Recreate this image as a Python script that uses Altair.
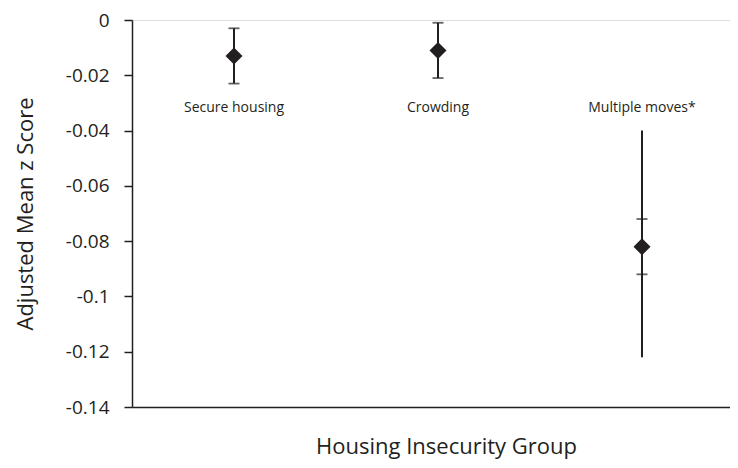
import altair as alt
import pandas as pd

groups = ["Secure housing", "Crowding", "Multiple moves*"]
means = [-0.013, -0.011, -0.082]
ci_low = [-0.023, -0.021, -0.092]
ci_high = [-0.003, -0.001, -0.072]
wide_groups = ["Multiple moves*"]
wide_low = [-0.122]
wide_high = [-0.040]
label_y = [-0.0333, -0.0333, -0.0333]
y_ticks = [0, -0.02, -0.04, -0.06, -0.08, -0.1, -0.12, -0.14]

FONT = "Open Sans"
INK = "#231f20"

df = pd.DataFrame({"group": groups, "mean": means, "lo": ci_low, "hi": ci_high, "ly": label_y})
wide = pd.DataFrame({"group": wide_groups, "lo": wide_low, "hi": wide_high})

xscale = alt.Scale(paddingInner=0, paddingOuter=0, range=[0, 612])
x = alt.X(
    "group:N",
    sort=groups,
    scale=xscale,
    axis=alt.Axis(
        title="Housing Insecurity Group",
        labels=False,
        ticks=False,
        domainColor=INK,
        domainWidth=1.5,
        titleFont=FONT,
        titleFontSize=22,
        titleFontWeight="normal",
        titleColor=INK,
        titlePadding=29,
        titleX=314,
        titleAlign="center",
    ),
)
yscale = alt.Scale(domain=[-0.14, 0], nice=False, zero=False)
yaxis = alt.Axis(
    title="Adjusted Mean z Score",
    values=y_ticks,
    labelExpr="datum.value == 0 ? '0' : '-' + format(abs(datum.value), '')",
    grid=False,
    domainColor=INK,
    domainWidth=1.5,
    tickColor=INK,
    tickWidth=1.5,
    tickSize=8,
    labelPadding=15,
    labelFont=FONT,
    labelFontSize=19,
    labelColor=INK,
    titleFont=FONT,
    titleFontSize=22,
    titleFontWeight="normal",
    titleColor=INK,
    titlePadding=28,
)
y = alt.Y("lo:Q", scale=yscale, axis=yaxis)

base = alt.Chart(df)

ci_rule = base.mark_rule(color=INK, strokeWidth=2).encode(x=x, y=y, y2="hi:Q")
cap_lo = base.mark_tick(color=INK, size=11, thickness=1.8).encode(x=x, y=alt.Y("lo:Q", scale=yscale))
cap_hi = base.mark_tick(color=INK, size=11, thickness=1.8).encode(x=x, y=alt.Y("hi:Q", scale=yscale))
wide_rule = alt.Chart(wide).mark_rule(color=INK, strokeWidth=2).encode(
    x=alt.X("group:N", sort=groups, scale=xscale), y=alt.Y("lo:Q", scale=yscale), y2="hi:Q"
)
pts = base.mark_point(shape="diamond", filled=True, size=290, color=INK, opacity=1).encode(
    x=x, y=alt.Y("mean:Q", scale=yscale)
)
labels = base.mark_text(font=FONT, fontSize=14, color=INK, baseline="alphabetic", align="center").encode(
    x=x, y=alt.Y("ly:Q", scale=yscale), text="group:N"
)

chart = (
    alt.layer(ci_rule, wide_rule, cap_lo, cap_hi, pts, labels)
    .properties(
        width=598,
        height=387,
        autosize=alt.AutoSizeParams(type="none"),
        padding={"left": 124, "top": 12, "right": 0, "bottom": 61},
    )
    .configure_view(stroke=None)
    .configure(background="white")
)

chart.save("out.html", embed_options={"renderer": "svg", "actions": False})
